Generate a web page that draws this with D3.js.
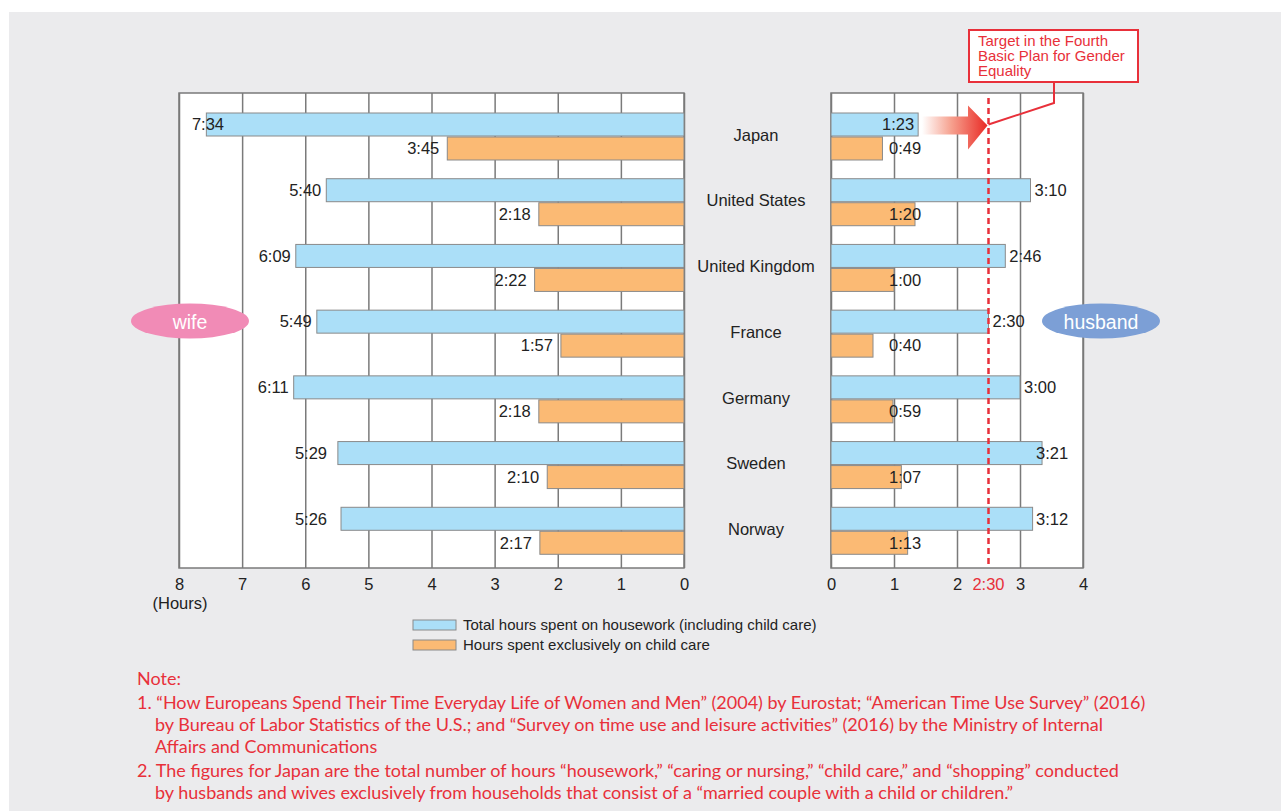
<!DOCTYPE html>
<html lang="en">
<head>
  <meta charset="UTF-8">
  <title>Housework and child care hours: wife vs husband</title>
  <script src="https://d3js.org/d3.v7.min.js"></script>
  <style>
    body { margin: 0; background: #fff; }
    text { font-family: "Liberation Sans", Arial, sans-serif; }
  </style>
</head>
<body>
<script>
  // data (hours:minutes per day)
  const countries = ["Japan", "United States", "United Kingdom", "France", "Germany", "Sweden", "Norway"];
  const wifeTotal = ["7:34", "5:40", "6:09", "5:49", "6:11", "5:29", "5:26"];
  const wifeChild = ["3:45", "2:18", "2:22", "1:57", "2:18", "2:10", "2:17"];
  const husbandTotal = ["1:23", "3:10", "2:46", "2:30", "3:00", "3:21", "3:12"];
  const husbandChild = ["0:49", "1:20", "1:00", "0:40", "0:59", "1:07", "1:13"];
  const wifeTicks = [8, 7, 6, 5, 4, 3, 2, 1, 0];
  const husbandTicks = [0, 1, 2, 3, 4];
  const target = "2:30";
  const legendLabels = ["Total hours spent on housework (including child care)", "Hours spent exclusively on child care"];
  const notes = [
    ["Note:"],
    ["1. \u201cHow Europeans Spend Their Time Everyday Life of Women and Men\u201d (2004) by Eurostat; \u201cAmerican Time Use Survey\u201d (2016)",
     "by Bureau of Labor Statistics of the U.S.; and \u201cSurvey on time use and leisure activities\u201d (2016) by the Ministry of Internal",
     "Affairs and Communications"],
    ["2. The figures for Japan are the total number of hours \u201chousework,\u201d \u201ccaring or nursing,\u201d \u201cchild care,\u201d and \u201cshopping\u201d conducted",
     "by husbands and wives exclusively from households that consist of a \u201cmarried couple with a child or children.\u201d"]
  ];

  const toHours = s => { const p = s.split(":"); return +p[0] + (+p[1]) / 60; };

  const W = 1281, H = 811;
  const blue = "#abdff8", orange = "#fbba74", red = "#e8303a", gridCol = "#7a7a7a";

  const svg = d3.select("body").append("svg")
    .attr("width", W).attr("height", H);

  svg.append("rect").attr("x", 9).attr("y", 12).attr("width", W - 9).attr("height", H - 12)
    .attr("fill", "#ebebed");

  const plotTop = 93, plotBottom = 568;

  const xL = d3.scaleLinear().domain([0, 8]).range([684, 179]);
  const xR = d3.scaleLinear().domain([0, 4]).range([831, 1083]);
  const y = d3.scaleBand().domain(countries).range([103, 563]);
  const barH = 23;

  const defs = svg.append("defs");
  const grad = defs.append("linearGradient").attr("id", "arrowGrad")
    .attr("x1", "0%").attr("x2", "100%");
  grad.append("stop").attr("offset", "0%").attr("stop-color", "#fff").attr("stop-opacity", 1);
  grad.append("stop").attr("offset", "45%").attr("stop-color", "#f6a08e");
  grad.append("stop").attr("offset", "100%").attr("stop-color", "#e92a25");

  // panels
  [[xL, wifeTicks], [xR, husbandTicks]].forEach(([x, ticks]) => {
    const [a, b] = d3.extent(x.range());
    svg.append("rect").attr("x", a).attr("y", plotTop).attr("width", b - a).attr("height", plotBottom - plotTop)
      .attr("fill", "#fff");
    const g = svg.append("g").attr("transform", `translate(0,${plotBottom})`)
      .call(d3.axisBottom(x).tickValues(ticks).tickSize(-(plotBottom - plotTop)).tickPadding(10).tickFormat(d3.format("d")));
    g.select(".domain").remove();
    g.selectAll(".tick line").attr("stroke", gridCol).attr("stroke-width", 1.5);
    g.selectAll(".tick text").attr("fill", "#222").style("font-size", "16.5px")
      .style("font-family", "Liberation Sans, Arial, sans-serif");
    svg.append("rect").attr("x", a).attr("y", plotTop).attr("width", b - a).attr("height", plotBottom - plotTop)
      .attr("fill", "none").attr("stroke", gridCol).attr("stroke-width", 1.5);
  });

  // wife bars
  const lblStyle = sel => sel.style("font-size", "16.5px").attr("fill", "#222");

  svg.selectAll(".wt").data(countries).join("rect").attr("class", "wt")
    .attr("x", (d, i) => xL(toHours(wifeTotal[i]))).attr("y", d => y(d) + 10)
    .attr("width", (d, i) => xL(0) - xL(toHours(wifeTotal[i]))).attr("height", barH)
    .attr("fill", blue).attr("stroke", "#8a8a8a");
  svg.selectAll(".wc").data(countries).join("rect").attr("class", "wc")
    .attr("x", (d, i) => xL(toHours(wifeChild[i]))).attr("y", d => y(d) + 10 + barH + 1)
    .attr("width", (d, i) => xL(0) - xL(toHours(wifeChild[i]))).attr("height", barH)
    .attr("fill", orange).attr("stroke", "#8a8a8a");

  // husband bars
  svg.selectAll(".ht").data(countries).join("rect").attr("class", "ht")
    .attr("x", xR(0)).attr("y", d => y(d) + 10)
    .attr("width", (d, i) => xR(toHours(husbandTotal[i])) - xR(0)).attr("height", barH)
    .attr("fill", blue).attr("stroke", "#8a8a8a");
  svg.selectAll(".hc").data(countries).join("rect").attr("class", "hc")
    .attr("x", xR(0)).attr("y", d => y(d) + 10 + barH + 1)
    .attr("width", (d, i) => xR(toHours(husbandChild[i])) - xR(0)).attr("height", barH)
    .attr("fill", orange).attr("stroke", "#8a8a8a");

  // value labels
  svg.selectAll(".wtl").data(countries).join("text").attr("class", "wtl")
    .attr("x", (d, i) => Math.min(Math.max(xL(toHours(wifeTotal[i])) - 5, 224), 327))
    .attr("y", d => y(d) + 10 + barH / 2).attr("dy", "0.35em")
    .attr("text-anchor", "end").text((d, i) => wifeTotal[i]).call(lblStyle);
  svg.selectAll(".wcl").data(countries).join("text").attr("class", "wcl")
    .attr("x", (d, i) => xL(toHours(wifeChild[i])) - 8)
    .attr("y", d => y(d) + 11 + barH * 1.5).attr("dy", "0.35em")
    .attr("text-anchor", "end").text((d, i) => wifeChild[i]).call(lblStyle);
  svg.selectAll(".htl").data(countries).join("text").attr("class", "htl")
    .attr("x", (d, i) => {
      const e = xR(toHours(husbandTotal[i]));
      return i === 0 ? e - 4 : Math.min(e + 4, 1036);
    })
    .attr("text-anchor", (d, i) => i === 0 ? "end" : "start")
    .attr("y", d => y(d) + 10 + barH / 2).attr("dy", "0.35em")
    .text((d, i) => husbandTotal[i]).call(lblStyle);
  svg.selectAll(".hcl").data(countries).join("text").attr("class", "hcl")
    .attr("x", 889)
    .attr("y", d => y(d) + 11 + barH * 1.5).attr("dy", "0.35em")
    .text((d, i) => husbandChild[i]).call(lblStyle);

  // country names
  svg.selectAll(".cn").data(countries).join("text").attr("class", "cn")
    .attr("x", 756).attr("y", d => y(d) + 32).attr("dy", "0.35em")
    .attr("text-anchor", "middle").text(d => d).call(lblStyle);

  svg.append("text").attr("x", 180).attr("y", 609).attr("text-anchor", "middle")
    .text("(Hours)").call(lblStyle);

  // target line
  const tx = xR(toHours(target));
  svg.append("line").attr("x1", tx).attr("x2", tx).attr("y1", 98).attr("y2", plotBottom)
    .attr("stroke", red).attr("stroke-width", 2.5).attr("stroke-dasharray", "6,4");
  svg.append("text").attr("x", tx).attr("y", 590).attr("text-anchor", "middle")
    .attr("fill", red).style("font-size", "16.5px").text(target);

  // arrow
  const ay = y("Japan") + 10 + barH / 2 + 1;
  svg.append("path")
    .attr("d", `M${922},${ay - 9} L${968},${ay - 9} L${968},${ay - 20} L${tx - 1},${ay} L${968},${ay + 24} L${968},${ay + 9} L${922},${ay + 9} Z`)
    .attr("fill", "url(#arrowGrad)");

  // target box
  svg.append("polyline")
    .attr("points", `1054,82 1054,103 ${tx},${ay - 1}`)
    .attr("fill", "none").attr("stroke", red).attr("stroke-width", 2);
  svg.append("rect").attr("x", 969).attr("y", 30).attr("width", 169).attr("height", 52)
    .attr("fill", "#fff").attr("stroke", red).attr("stroke-width", 2);
  ["Target in the Fourth", "Basic Plan for Gender", "Equality"].forEach((t, i) => {
    svg.append("text").attr("x", 978).attr("y", 46 + i * 15)
      .attr("fill", red).style("font-size", "15px").text(t);
  });

  // wife / husband badges
  [["wife", 190, "#f18bb6"], ["husband", 1101, "#7c9fd6"]].forEach(([t, cx, c]) => {
    svg.append("ellipse").attr("cx", cx).attr("cy", 321).attr("rx", 59).attr("ry", 17.5).attr("fill", c);
    svg.append("text").attr("x", cx).attr("y", 322).attr("dy", "0.35em").attr("text-anchor", "middle")
      .attr("fill", "#fff").style("font-size", "19.5px").text(t);
  });

  // legend
  const leg = svg.selectAll(".leg").data(legendLabels).join("g").attr("class", "leg")
    .attr("transform", (d, i) => `translate(413,${620 + i * 20})`);
  leg.append("rect").attr("width", 43).attr("height", 10)
    .attr("fill", (d, i) => i === 0 ? blue : orange).attr("stroke", "#8a8a8a");
  leg.append("text").attr("x", 50).attr("y", 5).attr("dy", "0.35em")
    .style("font-size", "15px").attr("fill", "#222").text(d => d);

  // notes
  let ny = 685;
  notes.forEach((block, bi) => {
    block.forEach((line, li) => {
      svg.append("text").attr("x", li === 0 ? 137 : 155).attr("y", ny)
        .attr("fill", red).style("font-family", "Lato, sans-serif").style("font-size", "18px")
        .text(line);
      ny += 22;
    });
    ny += 2;
  });
</script>
</body>
</html>
